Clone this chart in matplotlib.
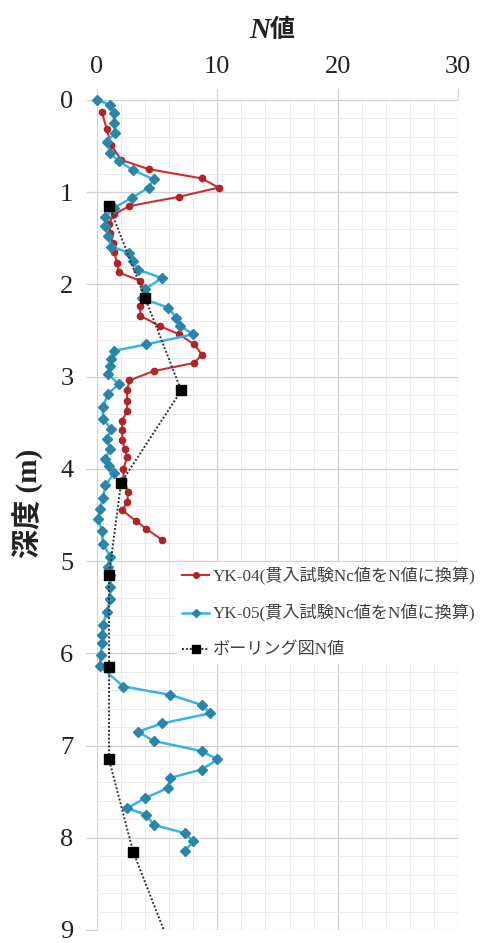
import matplotlib
matplotlib.use("Agg")
import matplotlib.pyplot as plt
from matplotlib.ticker import MultipleLocator

# ---- data ----
yk04_depth = [0.13, 0.31, 0.49, 0.65, 0.75, 0.85, 0.95, 1.05, 1.15, 1.24, 1.34, 1.44,
              1.55, 1.65, 1.77, 1.87, 1.96, 2.05, 2.14, 2.23, 2.34, 2.45, 2.54, 2.65,
              2.76, 2.85, 2.94, 3.04, 3.15, 3.26, 3.37, 3.48, 3.58, 3.69, 3.78, 3.87,
              4.00, 4.12, 4.25, 4.36, 4.45, 4.56, 4.65, 4.77]
yk04_n = [0.4, 0.8, 1.2, 2.0, 4.3, 8.7, 10.1, 6.8, 2.7, 1.4, 1.0, 1.1,
          1.3, 1.4, 1.7, 1.8, 3.6, 3.9, 4.1, 3.6, 3.6, 5.2, 6.8, 8.1,
          8.7, 8.1, 4.7, 2.7, 2.5, 2.5, 2.5, 2.1, 2.1, 2.1, 2.3, 2.5,
          2.2, 2.2, 2.6, 2.5, 2.1, 3.2, 4.1, 5.4]

yk05_depth = [0.00, 0.05, 0.14, 0.25, 0.36, 0.45, 0.58, 0.66, 0.76, 0.86, 0.95, 1.06,
              1.17, 1.27, 1.37, 1.48, 1.59, 1.66, 1.75, 1.84, 1.93, 2.05, 2.15, 2.25,
              2.36, 2.45, 2.54, 2.65, 2.72, 2.81, 2.88, 2.97, 3.08, 3.19, 3.33, 3.46,
              3.57, 3.68, 3.78, 3.89, 3.97, 4.05, 4.18, 4.32, 4.43, 4.54, 4.67, 4.81,
              4.95, 5.06, 5.15, 5.28, 5.41, 5.55, 5.69, 5.80, 5.89, 6.02, 6.14, 6.36,
              6.45, 6.56, 6.65, 6.76, 6.85, 6.95, 7.06, 7.15, 7.26, 7.35, 7.46, 7.57,
              7.68, 7.75, 7.86, 7.95, 8.04, 8.14]
yk05_n = [0.0, 1.1, 1.4, 1.4, 1.5, 0.8, 1.1, 1.8, 3.0, 4.7, 4.3, 2.9,
          1.4, 0.7, 0.7, 0.9, 1.2, 2.7, 3.0, 3.4, 5.4, 4.0, 3.7, 5.9,
          6.6, 6.9, 8.0, 4.1, 1.4, 1.2, 1.1, 0.9, 1.8, 0.9, 0.5, 0.5,
          1.2, 0.8, 1.1, 0.7, 1.0, 1.4, 0.7, 0.5, 0.25, 0.1, 0.4, 0.5,
          1.1, 0.9, 1.1, 1.1, 1.1, 0.8, 0.5, 0.4, 0.4, 0.3, 0.25, 2.2,
          6.1, 8.7, 9.4, 5.4, 3.4, 4.7, 8.7, 10.0, 8.7, 6.1, 5.9, 4.0,
          2.5, 4.1, 4.7, 7.3, 8.0, 7.3]

boring_depth = [1.15, 2.15, 3.15, 4.15, 5.15, 6.15, 7.15, 8.15, 9.15]
boring_n = [1, 4, 7, 2, 1, 1, 1, 3, 6]

x_ticks = [0, 10, 20, 30]
y_ticks = [0, 1, 2, 3, 4, 5, 6, 7, 8, 9]

label_04 = "YK-04(貫入試験Nc値をN値に換算)"
label_05 = "YK-05(貫入試験Nc値をN値に換算)"
label_b = "ボーリング図N値"

# ---- figure ----
W, H = 483, 943
fig = plt.figure(figsize=(W / 100, H / 100), dpi=100)
ax = fig.add_axes([97 / W, 13 / H, 361 / W, 830 / H])

serif = ['Liberation Serif', 'Noto Sans CJK JP']

l04, = ax.plot(yk04_n, yk04_depth, color='#C9302F', lw=1.5, marker='o', ms=4.5,
               mfc='#B22228', mec='#B22228', clip_on=False, zorder=3)
l05, = ax.plot(yk05_n, yk05_depth, color='#38B4E4', lw=1.8, marker='D', ms=5,
               mfc='#2A86A8', mec='#2A86A8', clip_on=False, zorder=4)
lb, = ax.plot(boring_n, boring_depth, color='#333333', lw=1.4, ls=(0, (1, 1)),
              marker='s', ms=7, mfc='black', mec='black', zorder=5)

ax.set_xlim(0, 30)
ax.set_ylim(9, 0)
ax.xaxis.tick_top()
ax.set_xticks(x_ticks)
ax.set_yticks(y_ticks)
ax.xaxis.set_minor_locator(MultipleLocator(2))
ax.yaxis.set_minor_locator(MultipleLocator(0.2))
ax.grid(which='major', color='#D2D2D2', lw=0.9)
ax.grid(which='minor', color='#E9E9E9', lw=0.6)
ax.set_axisbelow(True)
for s in ax.spines.values():
    s.set_visible(False)
ax.tick_params(which='major', length=8, color='#D2D2D2', width=0.9,
               labelsize=19, labelcolor='#222222')
ax.tick_params(axis='y', which='major', pad=9)
ax.tick_params(axis='x', which='major', pad=8)
ax.tick_params(which='minor', length=0)
for t in ax.get_xticklabels() + ax.get_yticklabels():
    t.set_family('Liberation Serif')

# title N値
fig.text(270 / W, 1 - 38 / H, "N", family='Liberation Serif', style='italic',
         weight='bold', fontsize=21, ha='right', va='baseline', color='#222222')
fig.text(270 / W, 1 - 37 / H, "値", family='Noto Sans CJK JP',
         weight='bold', fontsize=18, ha='left', va='baseline', color='#222222')

# y label
fig.text(28 / W, 1 - 503 / H, "深度 (m)", family=serif, weight='bold',
         fontsize=21, rotation=90, ha='center', va='center', color='#222222')

leg = ax.legend([l04, l05, lb], [label_04, label_05, label_b],
                loc='upper left', bbox_to_anchor=(177 / W, 1 - 562 / H),
                bbox_transform=fig.transFigure, frameon=True, facecolor='white',
                edgecolor='none', framealpha=1, fancybox=False,
                prop={'family': serif, 'size': 12.3}, labelspacing=1.15,
                handlelength=1.6, handletextpad=0.2, borderpad=0.3,
                borderaxespad=0, markerscale=0.9)
for t in leg.get_texts():
    t.set_color('#404040')

fig.savefig("out.png", dpi=100)
